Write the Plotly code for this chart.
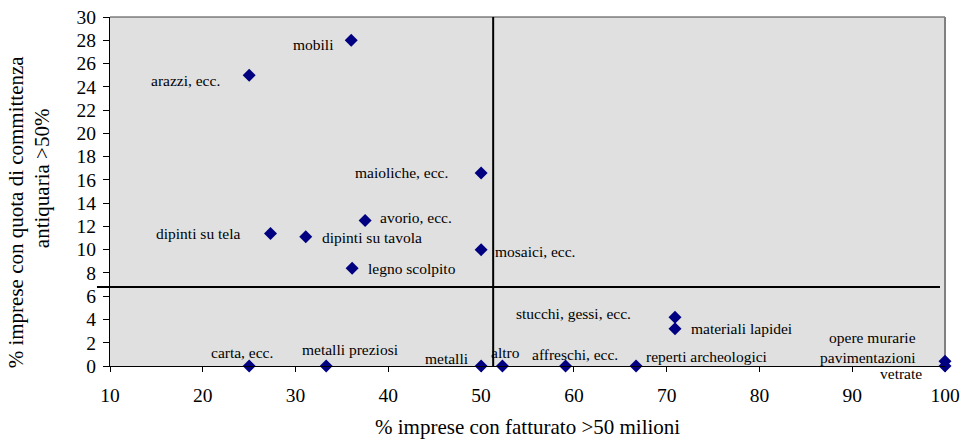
import plotly.graph_objects as go

# ---- data ----
labels = ["mobili", "arazzi, ecc.", "maioliche, ecc.", "avorio, ecc.", "dipinti su tela",
          "dipinti su tavola", "legno scolpito", "mosaici, ecc.", "stucchi, gessi, ecc.",
          "materiali lapidei", "carta, ecc.", "metalli preziosi", "metalli", "altro",
          "affreschi, ecc.", "reperti archeologici", "opere murarie<br>pavimentazioni", "vetrate"]
x_fatturato = [36.0, 25.0, 50.0, 37.5, 27.3, 31.1, 36.1, 50.0, 70.9, 70.9,
               25.0, 33.3, 50.0, 52.3, 59.1, 66.7, 100.0, 100.0]
y_committenza = [28.0, 25.0, 16.6, 12.5, 11.4, 11.1, 8.4, 10.0, 4.2, 3.2,
                 0.0, 0.0, 0.0, 0.0, 0.0, 0.0, 0.4, 0.0]
x_ref_line = 51.3
y_ref_line = 6.8
x_ticks = [10, 20, 30, 40, 50, 60, 70, 80, 90, 100]
y_ticks = list(range(0, 31, 2))
x_title = "% imprese con fatturato &gt;50 milioni"
y_title_lines = ["% imprese con quota di committenza", "antiquaria &gt;50%"]

# label placement (style only): anchor, x shift, y shift in pixels
label_style = [
    ("right", -15, -4), ("right", -27, -5), ("right", -31, 0), ("left", 13, 3),
    ("right", -28, 0), ("left", 14, -1), ("left", 14, 0), ("left", 12, -2),
    ("right", -42, 4), ("left", 14, 0), ("center", -7, 14), ("center", 24, 17),
    ("right", -10, 8), ("center", 3, 14), ("center", 9, 12), ("left", 8, 10),
    ("right", -27, 14), ("right", -21, -7),
]

FONT = "Times New Roman, Liberation Serif, DejaVu Serif, serif"

fig = go.Figure()
fig.add_trace(go.Scatter(
    x=x_fatturato, y=y_committenza, mode="markers",
    marker=dict(symbol="diamond", size=10, color="#000080", line=dict(width=0)),
    cliponaxis=False, showlegend=False, hoverinfo="skip"))

for lab, xv, yv, (anc, dx, dy) in zip(labels, x_fatturato, y_committenza, label_style):
    fig.add_annotation(x=xv, y=yv, xref="x", yref="y", text=lab, showarrow=False,
                       xanchor=anc, yanchor="middle", xshift=dx, yshift=dy,
                       align="right", font=dict(family=FONT, size=15.5, color="#000000"))

# axis titles
fig.add_annotation(x=0.5, y=-0.175, xref="paper", yref="paper", text=x_title, showarrow=False,
                   xanchor="center", yanchor="middle", font=dict(family=FONT, size=21, color="#000000"))
fig.add_annotation(x=-0.1126, y=-0.011, xref="paper", yref="paper", text=y_title_lines[0], showarrow=False,
                   textangle=-90, xanchor="center", yanchor="bottom",
                   font=dict(family=FONT, size=21, color="#000000"))
fig.add_annotation(x=-0.0814, y=0.332, xref="paper", yref="paper", text=y_title_lines[1], showarrow=False,
                   textangle=-90, xanchor="center", yanchor="bottom",
                   font=dict(family=FONT, size=21, color="#000000"))

# quadrant reference lines
fig.add_shape(type="line", xref="x", yref="y", x0=x_ref_line, x1=x_ref_line, y0=0, y1=30,
              line=dict(color="#000000", width=2), layer="above")
fig.add_shape(type="line", xref="paper", yref="y", x0=-0.0156, x1=0.994, y0=y_ref_line, y1=y_ref_line,
              line=dict(color="#000000", width=2), layer="above")
# top and right frame
fig.add_shape(type="line", xref="paper", yref="paper", x0=0, x1=1, y0=1, y1=1,
              line=dict(color="#404040", width=1), layer="below")
fig.add_shape(type="line", xref="paper", yref="paper", x0=1, x1=1, y0=0, y1=1,
              line=dict(color="#808080", width=2), layer="below")

fig.update_layout(
    width=962, height=439,
    margin=dict(l=110, r=17, t=17, b=73, autoexpand=False),
    paper_bgcolor="#ffffff", plot_bgcolor="#e0e0e0",
    font=dict(family=FONT, size=19, color="#000000"),
    xaxis=dict(range=[10, 100], tickvals=x_ticks, showgrid=False, zeroline=False,
               showline=True, linecolor="#000000", linewidth=1, automargin=False,
               ticks="outside", ticklen=5, tickcolor="#000000", ticklabelstandoff=7,
               tickfont=dict(family=FONT, size=19.5)),
    yaxis=dict(range=[0, 30], tickvals=y_ticks, showgrid=False, zeroline=False,
               showline=True, linecolor="#000000", linewidth=1, automargin=False,
               ticks="outside", ticklen=6, tickcolor="#000000", ticklabelstandoff=3,
               tickfont=dict(family=FONT, size=19.5)),
)

fig.write_html("out.html", config={"displayModeBar": False},
               post_script="document.body.style.margin='0';document.body.style.padding='0';")
